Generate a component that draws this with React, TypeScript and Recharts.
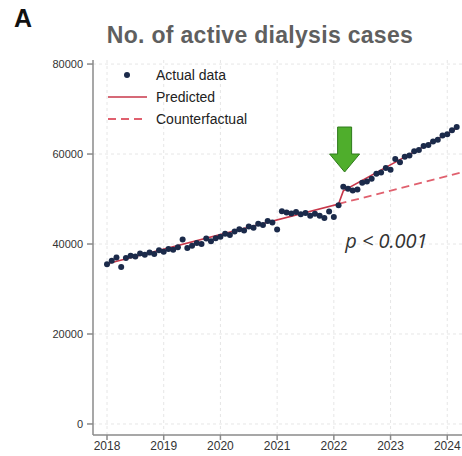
import React from 'react';
import { ComposedChart, Scatter, Line, XAxis, YAxis, CartesianGrid, ReferenceDot } from 'recharts';

// monthly observations, Jan 2018 .. Mar 2024
const startYear = 2018;
const actualCases = [
  35500, 36300, 37000, 34900, 36900, 37400, 37200, 37900, 37600, 38100, 37800, 38600,
  38300, 38900, 38700, 39300, 41000, 39100, 39600, 40200, 40000, 41200, 40600, 41300,
  41600, 42300, 42000, 42800, 43300, 43000, 43900, 43600, 44500, 44200, 45100, 44800,
  43200, 47300, 47000, 46800, 47100, 46600, 46900, 46300, 46700, 46300, 45800, 47200,
  46000, 48600, 52700, 52300, 51900, 52100, 53600, 53900, 54500, 55600, 55900, 56900,
  56500, 58900, 58200, 59400, 59700, 60600, 60900, 61800, 62000, 62800, 63200, 64100,
  64400, 65300, 66000,
];

// fitted segments (knots)
const predictedYears = [2018, 2022.083, 2022.167, 2024.167];
const predictedCases = [35600, 48900, 51800, 65700];
const counterYears = [2022.083, 2024.25];
const counterCases = [48900, 55900];

const yearTicks = [2018, 2019, 2020, 2021, 2022, 2023, 2024];
const caseTicks = [0, 20000, 40000, 60000, 80000];

const actualData = actualCases.map((v, i) => ({ t: startYear + i / 12, v }));
const predictedData = predictedYears.map((t, i) => ({ t, v: predictedCases[i] }));
const counterData = counterYears.map((t, i) => ({ t, v: counterCases[i] }));

const font = '"Liberation Sans", Arial, sans-serif';

const LegendBox = () => (
  <div style={{ position: 'absolute', left: 100, top: 64, fontFamily: font, fontSize: 14, color: '#222', lineHeight: '22px' }}>
    <div style={{ display: 'flex', alignItems: 'center' }}>
      <svg width={50} height={12}><circle cx={27} cy={6} r={3} fill="#1b2a4a" /></svg>
      <span style={{ marginLeft: 6 }}>Actual data</span>
    </div>
    <div style={{ display: 'flex', alignItems: 'center' }}>
      <svg width={50} height={12}><line x1={8} x2={47} y1={6} y2={6} stroke="#c8374a" strokeWidth={1.6} /></svg>
      <span style={{ marginLeft: 6 }}>Predicted</span>
    </div>
    <div style={{ display: 'flex', alignItems: 'center' }}>
      <svg width={50} height={12}><line x1={8} x2={47} y1={6} y2={6} stroke="#e0606e" strokeWidth={1.8} strokeDasharray="8 5" /></svg>
      <span style={{ marginLeft: 6 }}>Counterfactual</span>
    </div>
  </div>
);

const Arrow = ({ cx, cy }: any) => (
  <path
    d={`M${cx - 7},${cy - 45} L${cx + 7},${cy - 45} L${cx + 7},${cy - 18} L${cx + 15},${cy - 18} L${cx},${cy} L${cx - 15},${cy - 18} L${cx - 7},${cy - 18} Z`}
    fill="#4fae2c"
    stroke="#2f7a1b"
    strokeWidth={1}
  />
);

const PText = ({ cx, cy }: any) => (
  <text x={cx} y={cy} fontFamily='"Open Sans", sans-serif' fontStyle="italic" fontSize={20} fill="#333">
    p &lt; 0.001
  </text>
);

export default function App() {
  return (
    <div style={{ position: 'absolute', left: 0, top: 0, width: 462, height: 456, background: '#fff' }}>
      <ComposedChart width={462} height={456} margin={{ top: 60, right: 0, bottom: 0, left: 0 }}>
        <CartesianGrid stroke="#e6e6e6" strokeDasharray="3 3" verticalValues={yearTicks} horizontalValues={caseTicks} />
        <XAxis
          dataKey="t"
          type="number"
          domain={[2017.753, 2024.26]}
          ticks={yearTicks}
          allowDataOverflow
          height={21}
          tickSize={5}
          tickMargin={1}
          stroke="#8a8a8a"
          strokeWidth={1.5}
          tick={{ fontSize: 12, fill: '#333', fontFamily: font }}
        />
        <YAxis
          dataKey="v"
          type="number"
          domain={[-2450, 80900]}
          ticks={caseTicks}
          allowDataOverflow
          width={93}
          tickSize={6}
          tickMargin={4}
          stroke="#8a8a8a"
          strokeWidth={1.5}
          tick={{ fontSize: 11, fill: '#333', fontFamily: font }}
        />
        <Scatter data={actualData} dataKey="v" fill="#1b2a4a" isAnimationActive={false}
          shape={(p: any) => <circle cx={p.cx} cy={p.cy} r={3} fill="#1b2a4a" />} />
        <Line data={counterData} dataKey="v" stroke="#e0606e" strokeWidth={1.8} strokeDasharray="8 5" dot={false} isAnimationActive={false} />
        <Line data={predictedData} dataKey="v" stroke="#c8374a" strokeWidth={1.6} dot={false} isAnimationActive={false} />
        <ReferenceDot x={2022.19} y={56000} r={0} shape={Arrow} ifOverflow="visible" />
        <ReferenceDot x={2022.2} y={39100} r={0} shape={PText} ifOverflow="visible" />
      </ComposedChart>
      <div style={{ position: 'absolute', left: 14, top: 4, fontFamily: font, fontWeight: 700, fontSize: 25, color: '#111' }}>A</div>
      <div style={{ position: 'absolute', left: 0, width: 520, top: 22, textAlign: 'center', fontFamily: font, fontWeight: 700, fontSize: 23, letterSpacing: 0.3, color: '#5f5f5f' }}>
        No. of active dialysis cases
      </div>
      <LegendBox />
    </div>
  );
}
